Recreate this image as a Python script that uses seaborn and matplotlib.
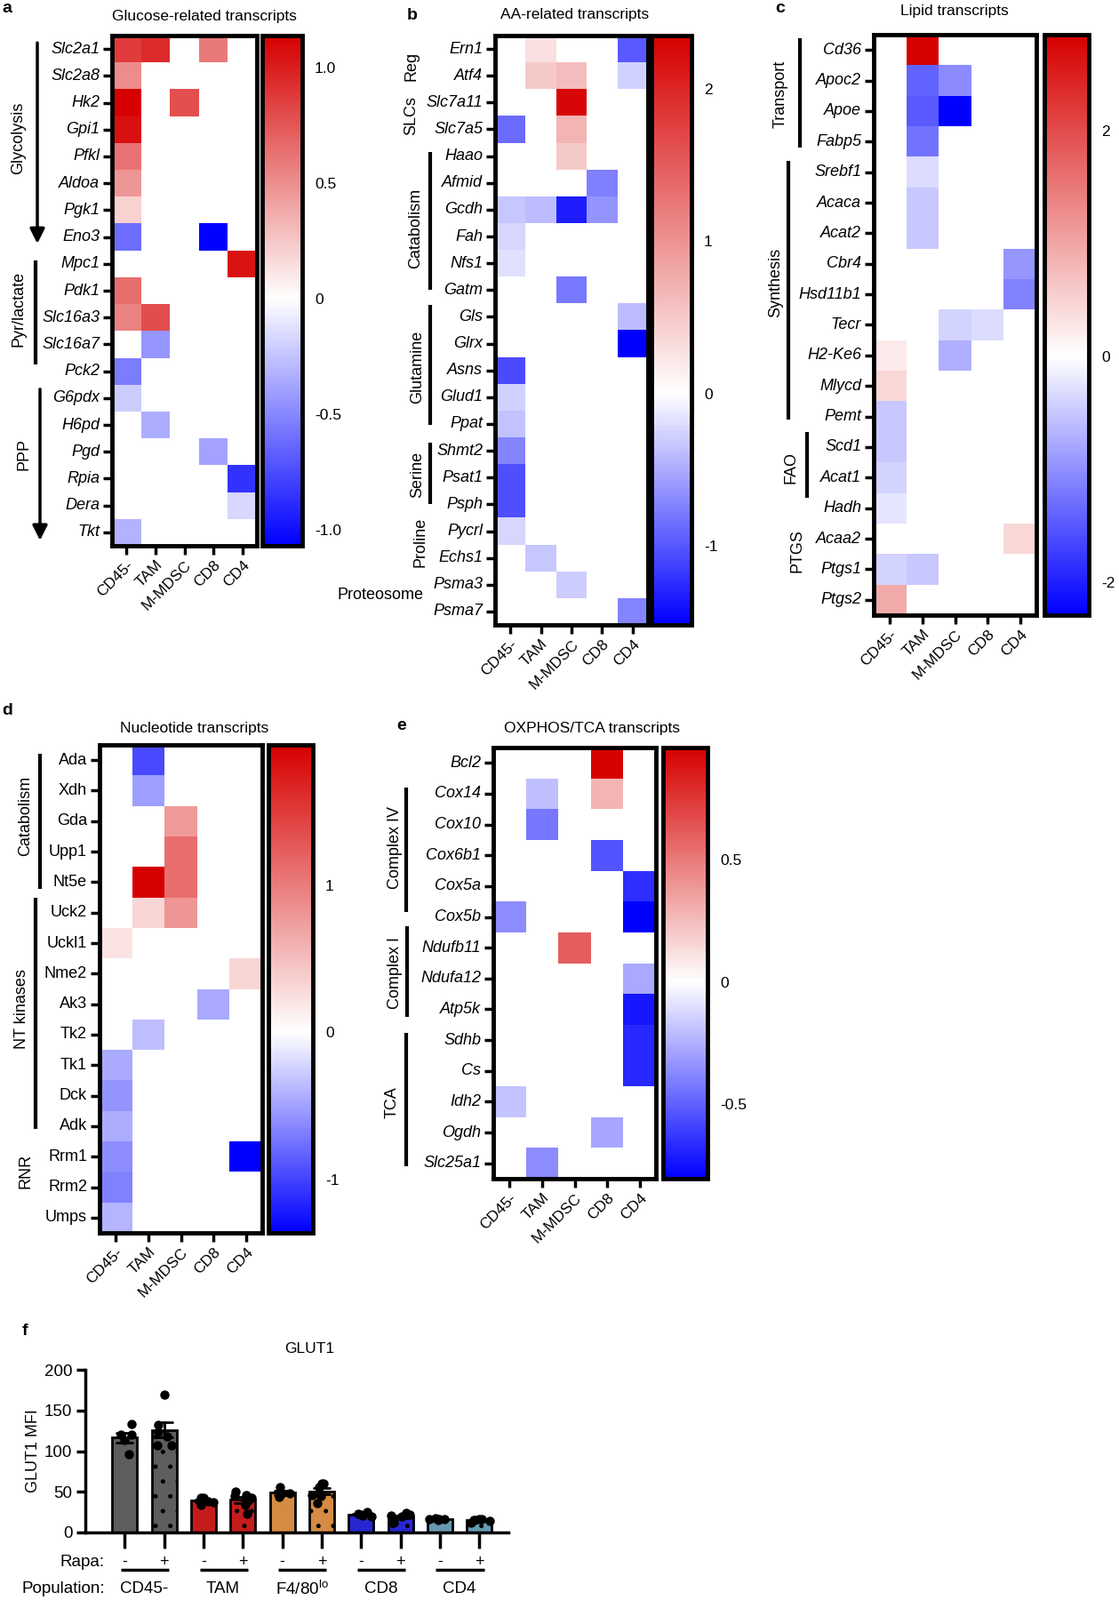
import numpy as np
import pandas as pd
import matplotlib
matplotlib.use('Agg')
import matplotlib.pyplot as plt
import matplotlib.transforms as mtransforms
from matplotlib.colors import LinearSegmentedColormap
import seaborn as sns

sns.set_style('white')
plt.rcParams['font.family'] = ['Liberation Sans', 'DejaVu Sans']
plt.rcParams['axes.unicode_minus'] = False
for k in ['text.color', 'axes.edgecolor', 'axes.labelcolor', 'xtick.color', 'ytick.color']:
    plt.rcParams[k] = 'black'
plt.rcParams['hatch.linewidth'] = 1.2

n = np.nan
cells = ['CD45-', 'TAM', 'M-MDSC', 'CD8', 'CD4']

# a. glucose
glucose_genes = ['Slc2a1', 'Slc2a8', 'Hk2', 'Gpi1', 'Pfkl', 'Aldoa', 'Pgk1', 'Eno3', 'Mpc1', 'Pdk1',
                 'Slc16a3', 'Slc16a7', 'Pck2', 'G6pdx', 'H6pd', 'Pgd', 'Rpia', 'Dera', 'Tkt']
glucose_vals = [
    [0.87, 0.95, n, 0.6, n],
    [0.51, n, n, n, n],
    [1.13, n, 0.78, n, n],
    [1.07, n, n, n, n],
    [0.63, n, n, n, n],
    [0.47, n, n, n, n],
    [0.2, n, n, n, n],
    [-0.61, n, n, -1.07, n],
    [n, n, n, n, 1.05],
    [0.65, n, n, n, n],
    [0.56, 0.8, n, n, n],
    [n, -0.44, n, n, n],
    [-0.55, n, n, n, n],
    [-0.21, n, n, n, n],
    [n, -0.34, n, n, n],
    [n, n, n, -0.38, n],
    [n, n, n, n, -0.86],
    [n, n, n, n, -0.17],
    [-0.32, n, n, n, n],
]

# b. amino acids
aa_genes = ['Ern1', 'Atf4', 'Slc7a11', 'Slc7a5', 'Haao', 'Afmid', 'Gcdh', 'Fah', 'Nfs1', 'Gatm', 'Gls',
            'Glrx', 'Asns', 'Glud1', 'Ppat', 'Shmt2', 'Psat1', 'Psph', 'Pycrl', 'Echs1', 'Psma3', 'Psma7']
aa_vals = [
    [n, 0.28, n, n, -0.98],
    [n, 0.5, 0.6, n, -0.27],
    [n, n, 2.3, n, n],
    [-0.87, n, 0.69, n, n],
    [n, n, 0.5, n, n],
    [n, n, n, -0.75, n],
    [-0.33, -0.39, -1.34, -0.63, n],
    [-0.24, n, n, n, n],
    [-0.18, n, n, n, n],
    [n, n, -0.8, n, n],
    [n, n, n, n, -0.39],
    [n, n, n, n, -1.52],
    [-1.07, n, n, n, n],
    [-0.27, n, n, n, n],
    [-0.36, n, n, n, n],
    [-0.72, n, n, n, n],
    [-1.04, n, n, n, n],
    [-1.04, n, n, n, n],
    [-0.24, n, n, n, n],
    [n, -0.33, n, n, n],
    [n, n, -0.3, n, n],
    [n, n, n, n, -0.72],
]

# c. lipids
lipid_genes = ['Cd36', 'Apoc2', 'Apoe', 'Fabp5', 'Srebf1', 'Acaca', 'Acat2', 'Cbr4', 'Hsd11b1', 'Tecr',
               'H2-Ke6', 'Mlycd', 'Pemt', 'Scd1', 'Acat1', 'Hadh', 'Acaa2', 'Ptgs1', 'Ptgs2']
lipid_vals = [
    [n, 2.85, n, n, n],
    [n, -1.4, -1.03, n, n],
    [n, -1.48, -2.29, n, n],
    [n, -1.26, n, n, n],
    [n, -0.31, n, n, n],
    [n, -0.49, n, n, n],
    [n, -0.49, n, n, n],
    [n, n, n, n, -0.94],
    [n, n, n, n, -1.12],
    [n, n, -0.4, -0.31, n],
    [0.22, n, -0.72, n, n],
    [0.45, n, n, n, n],
    [-0.49, n, n, n, n],
    [-0.49, n, n, n, n],
    [-0.4, n, n, n, n],
    [-0.24, n, n, n, n],
    [n, n, n, n, 0.45],
    [-0.4, -0.49, n, n, n],
    [0.95, n, n, n, n],
]

# d. nucleotides
nuc_genes = ['Ada', 'Xdh', 'Gda', 'Upp1', 'Nt5e', 'Uck2', 'Uckl1', 'Nme2', 'Ak3', 'Tk2', 'Tk1', 'Dck',
             'Adk', 'Rrm1', 'Rrm2', 'Umps']
nuc_vals = [
    [n, -0.96, n, n, n],
    [n, -0.51, n, n, n],
    [n, n, 0.77, n, n],
    [n, n, 1.1, n, n],
    [n, 1.95, 1.1, n, n],
    [n, 0.31, 0.8, n, n],
    [0.21, n, n, n, n],
    [n, n, n, n, 0.31],
    [n, n, n, -0.45, n],
    [n, -0.35, n, n, n],
    [-0.45, n, n, n, n],
    [-0.56, n, n, n, n],
    [-0.43, n, n, n, n],
    [-0.61, n, n, n, -1.36],
    [-0.67, n, n, n, n],
    [-0.4, n, n, n, n],
]

# e. oxphos / tca
ox_genes = ['Bcl2', 'Cox14', 'Cox10', 'Cox6b1', 'Cox5a', 'Cox5b', 'Ndufb11', 'Ndufa12', 'Atp5k', 'Sdhb',
            'Cs', 'Idh2', 'Ogdh', 'Slc25a1']
ox_vals = [
    [n, n, n, 0.95, n],
    [n, -0.2, n, 0.28, n],
    [n, -0.43, n, n, n],
    [n, n, n, -0.54, n],
    [n, n, n, n, -0.66],
    [-0.36, n, n, n, -0.8],
    [n, n, 0.6, n, n],
    [n, n, n, n, -0.27],
    [n, n, n, n, -0.73],
    [n, n, n, n, -0.68],
    [n, n, n, n, -0.68],
    [-0.19, n, n, n, n],
    [n, n, n, -0.28, n],
    [n, -0.36, n, n, n],
]

# f. GLUT1 MFI, individual mice
glut1_conds = ['CD45- -', 'CD45- +', 'TAM -', 'TAM +', 'F4/80lo -', 'F4/80lo +', 'CD8 -', 'CD8 +', 'CD4 -', 'CD4 +']
glut1_points = [
    [133, 120, 120, 114, 96],
    [169, 132, 123, 118, 107, 107],
    [43, 43, 38, 34, 37],
    [50, 46, 43, 45, 23, 34],
    [56, 47, 44, 48],
    [60, 60, 56, 46, 36, 45],
    [25, 23, 22, 21, 20],
    [24, 22, 21, 12, 16, 20],
    [17.5, 16.5, 16.5, 16, 15.5],
    [16.5, 16, 15, 12, 14, 15.5],
]
glut1_pops = ['CD45-', 'TAM', 'F4/80$^{\\mathregular{lo}}$', 'CD8', 'CD4']
bar_colors = ['#5e5e5e', '#5e5e5e', '#e00000', '#e00000', '#ee8a2c', '#ee8a2c',
              '#0a0aee', '#0a0aee', '#5a9dbb', '#5a9dbb']

W, H = 1259, 1800
fig = plt.figure(figsize=(W / 100, H / 100), dpi=100)


def box(x0, y0, x1, y1):
    return [x0 / W, 1 - y1 / H, (x1 - x0) / W, (y1 - y0) / H]


def heat_panel(genes, vals, heat_px, cbar_px, vmin, vmax, cticks, clabels, italic, groups):
    ax = fig.add_axes(box(*heat_px))
    cax = fig.add_axes(box(*cbar_px))
    # white sits at zero, scale stays linear
    w = -vmin / (vmax - vmin)
    cmap = LinearSegmentedColormap.from_list('bwr0', [(0, '#0000ff'), (w, '#ffffff'), (1, '#d60000')])
    df = pd.DataFrame(vals, index=genes, columns=cells)
    sns.heatmap(df, ax=ax, cbar_ax=cax, cmap=cmap, vmin=vmin, vmax=vmax, linewidths=0)
    ax.set_yticks(np.arange(len(genes)) + 0.5)
    ax.set_yticklabels(genes, rotation=0, fontsize=13, fontstyle='italic' if italic else 'normal')
    ax.set_xticks(np.arange(len(cells)) + 0.5)
    ax.set_xticklabels(cells, rotation=45, ha='right', rotation_mode='anchor', fontsize=12.5)
    ax.tick_params(left=True, bottom=True, length=7, width=2.5, pad=3)
    for s in ax.spines.values():
        s.set_visible(True)
        s.set_linewidth(3.5)
    cbar = ax.collections[0].colorbar
    cbar.outline.set_linewidth(3.5)
    cbar.set_ticks(cticks, labels=clabels)
    cax.tick_params(direction='in', length=7, width=2.5, left=True, right=True, labelsize=12.5, pad=10)
    tr = mtransforms.blended_transform_factory(fig.transFigure, ax.transData)
    for text, tx, ty, rot, kind, lx, r0, r1 in groups:
        ax.text(tx / W, ty, text, rotation=rot, ha='center', va='center', fontsize=13, transform=tr)
        if kind == 'arrow':
            ax.annotate('', xy=(lx / W, r1), xytext=(lx / W, r0), xycoords=tr, textcoords=tr,
                        arrowprops=dict(arrowstyle='-|>', lw=2.5, color='k', mutation_scale=25,
                                        shrinkA=0, shrinkB=0),
                        annotation_clip=False)
        elif kind == 'line':
            ax.plot([lx / W, lx / W], [r0, r1], transform=tr, color='k', lw=3,
                    clip_on=False, solid_capstyle='butt')
    return ax


heat_panel(glucose_genes, glucose_vals, (126, 40, 289, 614), (295, 40, 340, 614), -1.07, 1.14,
           [1.0, 0.5, 0, -0.5, -1.0], ['1.0', '0.5', '0', '-0.5', '-1.0'], True,
           [('Glycolysis', 21, 3.83, 90, 'arrow', 42, 0.27, 7.75),
            ('Pyr/lactate', 21, 10.17, 90, 'line', 40, 8.36, 12.26),
            ('PPP', 27, 15.6, 90, 'arrow', 45, 13.17, 18.8)])

heat_panel(aa_genes, aa_vals, (557, 40, 729, 703), (733, 40, 778, 703), -1.52, 2.35,
           [2, 1, 0, -1], ['2', '1', '0', '-1'], True,
           [('Reg', 463, 1.15, 90, None, 0, 0, 0),
            ('SLCs', 463, 3.0, 90, None, 0, 0, 0),
            ('Catabolism', 468, 7.2, 90, 'line', 484, 4.36, 9.5),
            ('Glutamine', 470, 12.38, 90, 'line', 484, 10.04, 14.55),
            ('Serine', 470, 16.4, 90, 'line', 484, 15.19, 17.5),
            ('Proline', 473, 18.9, 90, None, 0, 0, 0),
            ('Proteosome', 428, 20.9, 0, None, 0, 0, 0)])

heat_panel(lipid_genes, lipid_vals, (983, 39, 1166, 692), (1175, 39, 1225, 692), -2.29, 2.85,
           [2, 0, -2], ['2', '0', '-2'], True,
           [('Transport', 878, 1.95, 90, 'line', 900, 0.12, 3.7),
            ('Synthesis', 873, 8.13, 90, 'line', 887, 4.13, 12.6),
            ('FAO', 890, 14.18, 90, 'line', 908, 13.0, 15.16),
            ('PTGS', 897, 16.9, 90, None, 0, 0, 0)])

heat_panel(nuc_genes, nuc_vals, (112, 838, 295, 1387), (302, 838, 352, 1387), -1.36, 1.95,
           [1, 0, -1], ['1', '0', '-1'], False,
           [('Catabolism', 29, 2.33, 90, 'line', 45, 0.3, 4.72),
            ('NT kinases', 25, 8.65, 90, 'line', 40, 5.0, 12.6),
            ('RNR', 29, 13.98, 90, None, 0, 0, 0)])

heat_panel(ox_genes, ox_vals, (555, 841, 738, 1326), (746, 841, 796, 1326), -0.805, 0.958,
           [0.5, 0, -0.5], ['0.5', '0', '-0.5'], True,
           [('Complex IV', 445, 3.24, 90, 'line', 457, 1.3, 5.34),
            ('Complex I', 445, 7.33, 90, 'line', 458, 5.8, 8.75),
            ('TCA', 441, 11.53, 90, 'line', 457, 9.27, 13.6)])

# titles and panel letters
for text, x, y in [('Glucose-related transcripts', 230, 18), ('AA-related transcripts', 647, 16),
                   ('Lipid transcripts', 1074, 13), ('Nucleotide transcripts', 219, 819),
                   ('OXPHOS/TCA transcripts', 666, 819), ('GLUT1', 348, 1517)]:
    fig.text(x / W, 1 - y / H, text, ha='center', va='center', fontsize=12.5)
for text, x, y in [('a', 8, 9), ('b', 464, 17), ('c', 878, 9), ('d', 8, 800), ('e', 452, 816), ('f', 28, 1498)]:
    fig.text(x / W, 1 - y / H, text, ha='center', va='center', fontsize=14, fontweight='bold')

# f. GLUT1 bars
rows = [(c, v) for c, pts in zip(glut1_conds, glut1_points) for v in pts]
gdf = pd.DataFrame(rows, columns=['cond', 'mfi'])
axf = fig.add_axes(box(96, 1541, 572, 1724))
sns.barplot(data=gdf, x='cond', y='mfi', hue='cond', order=glut1_conds, hue_order=glut1_conds,
            palette=bar_colors, errorbar='se', capsize=0.4, err_kws={'color': 'k', 'linewidth': 2},
            edgecolor='k', linewidth=2, width=0.63, dodge=False, legend=False, ax=axf)
for p in axf.patches:
    if int(round(p.get_x() + p.get_width() / 2)) % 2 == 1:
        p.set_hatch('.')
sns.stripplot(data=gdf, x='cond', y='mfi', order=glut1_conds, color='k', size=7.5, jitter=0.28, ax=axf)
axf.set_xlim(-1.0, 9.74)
axf.set_ylim(0, 200)
axf.set_yticks([0, 50, 100, 150, 200])
axf.set_xticks(range(10))
axf.set_xticklabels([])
axf.set_xlabel('')
axf.set_ylabel('GLUT1 MFI', fontsize=13, labelpad=3)
sns.despine(ax=axf)
for s in ['left', 'bottom']:
    axf.spines[s].set_linewidth(2.5)
axf.tick_params(axis='x', bottom=True, length=13, width=2.5)
axf.tick_params(axis='y', left=True, length=7, width=2.5, labelsize=13.5)

blend = mtransforms.blended_transform_factory(axf.transData, fig.transFigure)
for i in range(10):
    axf.text(i, 1 - 1757 / H, '-' if i % 2 == 0 else '+', ha='center', va='center', fontsize=13, transform=blend)
for k, pop in enumerate(glut1_pops):
    axf.plot([2 * k - 0.1, 2 * k + 1.12], [1 - 1766 / H] * 2, color='k', lw=2.5,
             transform=blend, clip_on=False, solid_capstyle='butt')
    axf.text(2 * k + 0.5, 1 - 1788 / H, pop, ha='center', va='center', fontsize=13.5, transform=blend)
fig.text(118 / W, 1 - 1757 / H, 'Rapa:', ha='right', va='center', fontsize=13.5)
fig.text(118 / W, 1 - 1788 / H, 'Population:', ha='right', va='center', fontsize=13.5)

fig.savefig('out.png', dpi=100)
